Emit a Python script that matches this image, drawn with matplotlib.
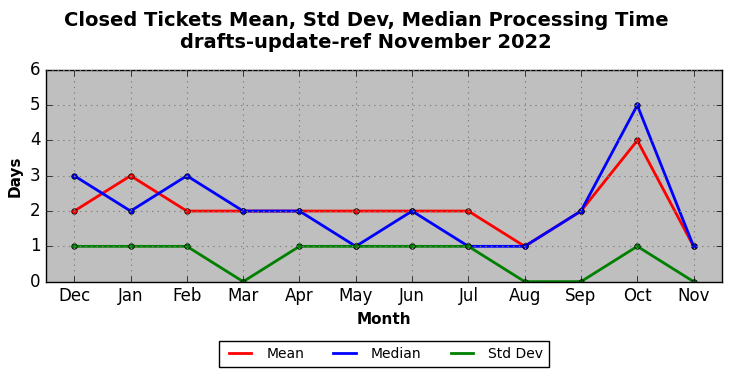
import matplotlib
matplotlib.use('Agg')
import matplotlib.pyplot as plt

months = ['Dec', 'Jan', 'Feb', 'Mar', 'Apr', 'May', 'Jun', 'Jul', 'Aug', 'Sep', 'Oct', 'Nov']
mean = [2, 3, 2, 2, 2, 2, 2, 2, 1, 2, 4, 1]
median = [3, 2, 3, 2, 2, 1, 2, 1, 1, 2, 5, 1]
std_dev = [1, 1, 1, 0, 1, 1, 1, 1, 0, 0, 1, 0]

plt.style.use('classic')
fig = plt.figure(figsize=(7.32, 3.78), dpi=100)
ax = fig.add_axes([0.063, 0.255, 0.923, 0.56])
ax.set_facecolor('#bfbfbf')

x = range(len(months))
for vals, col, name in [(mean, 'red', 'Mean'), (median, 'blue', 'Median'), (std_dev, 'green', 'Std Dev')]:
    ax.plot(x, vals, color=col, lw=2, label=name)
    ax.plot(x, vals, color=col, lw=0, marker='o', ms=4, mec='black', mew=0.5)

ax.set_xlim(-0.5, len(months) - 0.5)
ax.set_ylim(0, 6)
ax.set_xticks(list(x))
ax.set_xticklabels(months)
ax.tick_params(labelsize=12)
ax.grid(True, color='gray', linestyle=':', linewidth=0.8)
ax.set_xlabel('Month', fontsize=11, fontweight='bold')
ax.set_ylabel('Days', fontsize=11, fontweight='bold')
fig.suptitle('Closed Tickets Mean, Std Dev, Median Processing Time\ndrafts-update-ref November 2022',
             fontsize=14, fontweight='bold', y=0.972)
ax.legend(loc='upper center', bbox_to_anchor=(0.5, -0.25), ncol=3, fontsize=10,
          frameon=True, fancybox=False, handlelength=2.2, columnspacing=1.8)

fig.savefig('out.png', dpi=100)
